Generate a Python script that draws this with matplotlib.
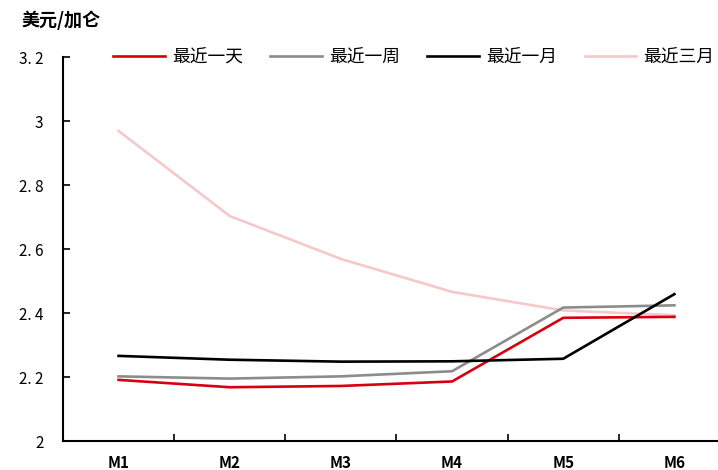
import matplotlib
matplotlib.use('Agg')
import matplotlib.pyplot as plt

plt.rcParams['font.family'] = ['Noto Sans CJK SC', 'DejaVu Sans']
plt.rcParams['axes.unicode_minus'] = False

# 各合约月份及不同时间窗口的价格
months = ['M1', 'M2', 'M3', 'M4', 'M5', 'M6']
last_day = [2.191, 2.168, 2.172, 2.186, 2.385, 2.388]
last_week = [2.202, 2.195, 2.202, 2.218, 2.417, 2.424]
last_month = [2.266, 2.254, 2.248, 2.249, 2.257, 2.459]
last_3month = [2.969, 2.703, 2.569, 2.466, 2.408, 2.393]
series_names = ['最近一天', '最近一周', '最近一月', '最近三月']
yticks = [2, 2.2, 2.4, 2.6, 2.8, 3, 3.2]
ytick_labels = ['2', '2. 2', '2. 4', '2. 6', '2. 8', '3', '3. 2']

fig = plt.figure(figsize=(7.18, 4.70), dpi=100)
ax = fig.add_axes([0.0877, 0.0617, 0.929, 0.817])

x = range(len(months))
ax.plot(x, last_day, color='#D7000F', lw=1.9, label=series_names[0], zorder=4)
ax.plot(x, last_week, color='#8C8C8C', lw=1.9, label=series_names[1], zorder=3)
ax.plot(x, last_month, color='#000000', lw=1.9, label=series_names[2], zorder=5)
ax.plot(x, last_3month, color='#F7C8CA', lw=1.9, label=series_names[3], zorder=2)

ax.set_xlim(-0.5, 5.5)
ax.set_ylim(2, 3.2)
ax.set_xticks(x)
ax.set_xticklabels(months, fontsize=11, fontweight='bold')
ax.set_xticks([i + 0.5 for i in range(5)], minor=True)
ax.set_yticks(yticks)
ax.set_yticklabels(ytick_labels, fontsize=11)

ax.tick_params(axis='x', which='major', length=0, pad=10)
ax.tick_params(axis='x', which='minor', direction='in', length=5, width=1.2)
ax.tick_params(axis='y', direction='in', length=5, width=1.2, pad=14)

for side in ['top', 'right']:
    ax.spines[side].set_visible(False)
for side in ['left', 'bottom']:
    ax.spines[side].set_linewidth(1.5)

fig.legend(loc='center left', bbox_to_anchor=(113 / 718, 1 - 57 / 470), ncol=4,
           frameon=False, borderpad=0, borderaxespad=0,
           prop={'size': 12.8}, handlelength=2.9, columnspacing=1.55,
           handletextpad=0.4)

fig.text(22 / 718, 1 - 20 / 470, '美元/加仑', fontsize=13, fontweight='bold', va='center')

fig.savefig('out.png', dpi=100)
